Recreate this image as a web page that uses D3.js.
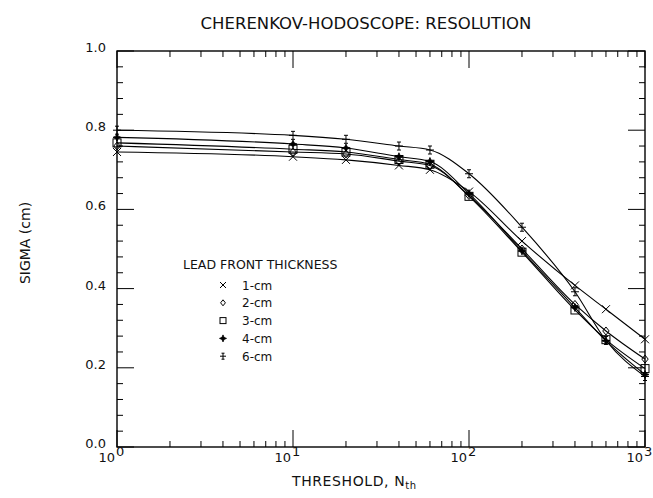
<!DOCTYPE html>
<html>
<head>
<meta charset="utf-8">
<script src="https://cdn.jsdelivr.net/npm/d3@7"></script>
<style>
  body { margin: 0; background: #fff; }
  text { font-family: "DejaVu Sans", sans-serif; fill: #111; }
</style>
</head>
<body>
<svg id="chart"></svg>
<script>
var width = 653;
var height = 498;

// thresholds N_th
var thresholds = [1, 10, 20, 40, 60, 100, 200, 400, 600, 1000];
// sigma (cm) for each lead front thickness
var sigma1 = [0.745, 0.733, 0.725, 0.711, 0.700, 0.645, 0.520, 0.408, 0.348, 0.272];
var sigma2 = [0.760, 0.745, 0.740, 0.722, 0.711, 0.635, 0.500, 0.360, 0.293, 0.222];
var sigma3 = [0.768, 0.752, 0.745, 0.726, 0.714, 0.633, 0.492, 0.346, 0.271, 0.198];
var sigma4 = [0.782, 0.765, 0.755, 0.733, 0.721, 0.640, 0.495, 0.352, 0.268, 0.183];
var sigma6 = [0.800, 0.787, 0.777, 0.760, 0.750, 0.690, 0.555, 0.392, 0.269, 0.178];
var seriesNames = ["1-cm", "2-cm", "3-cm", "4-cm", "6-cm"];
var symbols = ["cross", "diamond", "square", "star", "plus"];
var yTicks = [0.0, 0.2, 0.4, 0.6, 0.8, 1.0];
var xTicks = [1, 10, 100, 1000];

var series = [sigma1, sigma2, sigma3, sigma4, sigma6].map(function(vals, i) {
    return {name: seriesNames[i], symbol: symbols[i],
        points: thresholds.map(function(t, j) { return {x: t, y: vals[j]}; })};
});

var margin = {left: 117, right: 8, top: 51, bottom: 51};
var x0 = margin.left, x1 = width - margin.right;
var y0 = height - margin.bottom, y1 = margin.top;

var x = d3.scaleLog().domain([1, 1000]).range([x0, x1]);
var y = d3.scaleLinear().domain([0, 1]).range([y0, y1]);

var svg = d3.select("#chart").attr("width", width).attr("height", height);

// frame
svg.append("rect")
    .attr("x", x0).attr("y", y1)
    .attr("width", x1 - x0).attr("height", y0 - y1)
    .attr("fill", "none").attr("stroke", "#000").attr("stroke-width", 1.4);

// log minor/major ticks on bottom and top (inward)
var xMinor = [];
for (var d = 1; d < 1000; d *= 10) {
    for (var k = 2; k <= 9; k++) xMinor.push(d * k);
}
var tickG = svg.append("g").attr("stroke", "#000").attr("stroke-width", 1);
xMinor.forEach(function(v) {
    tickG.append("line").attr("x1", x(v)).attr("x2", x(v)).attr("y1", y0).attr("y2", y0 - 6);
    tickG.append("line").attr("x1", x(v)).attr("x2", x(v)).attr("y1", y1).attr("y2", y1 + 6);
});
xTicks.forEach(function(v) {
    tickG.append("line").attr("x1", x(v)).attr("x2", x(v)).attr("y1", y0).attr("y2", y0 - 17);
    tickG.append("line").attr("x1", x(v)).attr("x2", x(v)).attr("y1", y1).attr("y2", y1 + 17);
});
// y ticks every 0.04, major every 0.2
d3.range(0, 1.0001, 0.04).forEach(function(v) {
    var major = Math.abs(v * 5 - Math.round(v * 5)) < 1e-6;
    var len = major ? 17 : 6;
    tickG.append("line").attr("x1", x0).attr("x2", x0 + len).attr("y1", y(v)).attr("y2", y(v));
    tickG.append("line").attr("x1", x1).attr("x2", x1 - len).attr("y1", y(v)).attr("y2", y(v));
});

// y tick labels
svg.append("g").selectAll("text").data(yTicks).enter().append("text")
    .attr("x", x0 - 11).attr("y", function(d) { return y(d) + 1; })
    .attr("text-anchor", "end")
    .style("font-size", "13px")
    .text(function(d) { return d.toFixed(1); });

// x tick labels 10^n
var xl = svg.append("g").selectAll("g").data(xTicks).enter().append("g");
xl.append("text")
    .attr("x", function(d) { return x(d) - 2; }).attr("y", y0 + 15)
    .attr("text-anchor", "end").style("font-size", "13px")
    .text("10");
xl.append("text")
    .attr("x", function(d) { return x(d) - 1; }).attr("y", y0 + 9)
    .style("font-size", "13px")
    .text(function(d) { return Math.round(Math.log10(d)); });

// titles
svg.append("text").attr("x", 366).attr("y", 29).attr("text-anchor", "middle")
    .style("font-size", "16.5px").text("CHERENKOV-HODOSCOPE: RESOLUTION");

var xt = svg.append("text").attr("x", 292).attr("y", 486)
    .style("font-size", "14px").style("letter-spacing", "0.6px");
xt.append("tspan").text("THRESHOLD, N");
xt.append("tspan").attr("dy", 3).style("font-size", "10px").text("th");

svg.append("text")
    .attr("transform", "translate(30,243) rotate(-90)")
    .attr("text-anchor", "middle").style("font-size", "14px")
    .text("SIGMA (cm)");

// curves
var line = d3.line()
    .x(function(d) { return x(d.x); })
    .y(function(d) { return y(d.y); })
    .curve(d3.curveMonotoneX);

svg.append("g").selectAll("path").data(series).enter().append("path")
    .attr("d", function(d) { return line(d.points); })
    .attr("fill", "none").attr("stroke", "#000").attr("stroke-width", 1.1);

// marker drawing
function drawSymbol(g, type, cx, cy, s) {
    var p;
    if (type == "cross") {
        p = "M" + (cx - s) + "," + (cy - s) + "L" + (cx + s) + "," + (cy + s)
          + "M" + (cx - s) + "," + (cy + s) + "L" + (cx + s) + "," + (cy - s);
        g.append("path").attr("d", p).attr("stroke", "#000").attr("fill", "none");
    } else if (type == "diamond") {
        p = "M" + cx + "," + (cy - s) + "L" + (cx + s * 0.8) + "," + cy + "L" + cx + "," + (cy + s)
          + "L" + (cx - s * 0.8) + "," + cy + "Z";
        g.append("path").attr("d", p).attr("stroke", "#000").attr("fill", "none");
    } else if (type == "square") {
        g.append("rect").attr("x", cx - s).attr("y", cy - s).attr("width", 2 * s).attr("height", 2 * s)
            .attr("stroke", "#000").attr("fill", "none");
    } else if (type == "star") {
        var a = s * 0.3;
        p = "M" + cx + "," + (cy - s) + "L" + (cx + a) + "," + (cy - a) + "L" + (cx + s) + "," + cy
          + "L" + (cx + a) + "," + (cy + a) + "L" + cx + "," + (cy + s) + "L" + (cx - a) + "," + (cy + a)
          + "L" + (cx - s) + "," + cy + "L" + (cx - a) + "," + (cy - a) + "Z";
        g.append("path").attr("d", p).attr("stroke", "#000").attr("stroke-width", 0.8).attr("fill", "#000");
    } else if (type == "plus") {
        var b = s * 0.5;
        p = "M" + cx + "," + (cy - s) + "L" + cx + "," + (cy + s)
          + "M" + (cx - s) + "," + cy + "L" + (cx + s) + "," + cy
          + "M" + (cx - b) + "," + (cy - s) + "L" + (cx + b) + "," + (cy - s)
          + "M" + (cx - b) + "," + (cy + s) + "L" + (cx + b) + "," + (cy + s);
        g.append("path").attr("d", p).attr("stroke", "#000").attr("fill", "none");
    }
}

var markG = svg.append("g").attr("stroke-width", 1);
series.forEach(function(s) {
    s.points.forEach(function(pt) {
        drawSymbol(markG, s.symbol, x(pt.x), y(pt.y), 4);
    });
});

// legend
var legend = svg.append("g");
legend.append("text").attr("x", 183).attr("y", 269).style("font-size", "12.5px")
    .text("LEAD FRONT THICKNESS");
series.forEach(function(s, i) {
    var cy = 285 + i * 17.8;
    drawSymbol(legend.append("g").attr("stroke-width", 1), s.symbol, 223, cy, s.symbol == "star" ? 3.5 : 3);
    legend.append("text").attr("x", 242).attr("y", cy + 4.5).style("font-size", "12px").text(s.name);
});
</script>
</body>
</html>
